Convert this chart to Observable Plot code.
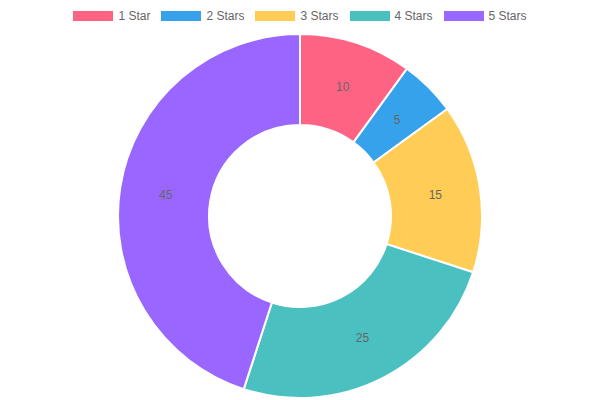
<!DOCTYPE html>
<html>
<head>
<meta charset="utf-8">
<script src="https://cdn.jsdelivr.net/npm/d3@7"></script>
<script src="https://cdn.jsdelivr.net/npm/@observablehq/plot@0.6"></script>
<style>
  html, body { margin: 0; padding: 0; background: #fff; }
  body { width: 600px; height: 400px; overflow: hidden; font-family: "Liberation Sans", Arial, Helvetica, sans-serif; }
  #legend { height: 32px; display: flex; justify-content: center; align-items: center; font-size: 12px; color: #666; }
  .item { display: flex; align-items: center; margin: 0 5.5px; }
  .box { width: 40px; height: 10px; margin-right: 5px; }
  #chart svg { display: block; }
</style>
</head>
<body>
<div id="legend"></div>
<div id="chart"></div>
<script>
const labels = ["1 Star", "2 Stars", "3 Stars", "4 Stars", "5 Stars"];
const values = [10, 5, 15, 25, 45];
const colors = ["#ff6384", "#36a2eb", "#ffcd56", "#4bc0c0", "#9966ff"];

const W = 600, H = 368;
const outerR = 182, innerR = 91;

const data = labels.map((label, i) => ({label, value: values[i]}));
const pie = d3.pie().sort(null).value(d => d.value);
const arcs = pie(data);
const labelArc = d3.arc().innerRadius((innerR + outerR) / 2).outerRadius((innerR + outerR) / 2);
const labelData = arcs.map(a => {
  const [cx, cy] = labelArc.centroid(a);
  return {label: a.data.label, value: a.data.value, x: cx, y: -cy};
});

// Legend (from the same color scale)
const colorScale = Plot.scale({color: {type: "ordinal", domain: labels, range: colors}});
const legendDiv = d3.select("#legend");
labels.forEach(l => {
  const it = legendDiv.append("div").attr("class", "item");
  it.append("div").attr("class", "box").style("background", colorScale.apply(l));
  it.append("span").text(l);
});

const chart = Plot.plot({
  width: W,
  height: H,
  margin: 0,
  x: {type: "linear", domain: [-W / 2, W / 2], range: [0, W], axis: null},
  y: {type: "linear", domain: [-H / 2, H / 2], range: [H, 0], axis: null},
  marks: [
    (index, scales) => {
      const g = d3.create("svg:g");
      const cx = scales.x(0), cy = scales.y(0);
      const k = scales.x(1) - scales.x(0);
      const gen = d3.arc().innerRadius(innerR * k).outerRadius(outerR * k);
      g.selectAll("path")
        .data(arcs)
        .join("path")
        .attr("transform", `translate(${cx},${cy})`)
        .attr("d", gen)
        .attr("fill", d => colorScale.apply(d.data.label))
        .attr("stroke", "#fff")
        .attr("stroke-width", 2);
      return g.node();
    },
    Plot.text(labelData, {
      x: "x", y: "y", text: d => String(d.value),
      fill: "#666", fontSize: 12, fontFamily: "Liberation Sans, Arial, sans-serif"
    })
  ]
});
document.getElementById("chart").appendChild(chart);
</script>
</body>
</html>
